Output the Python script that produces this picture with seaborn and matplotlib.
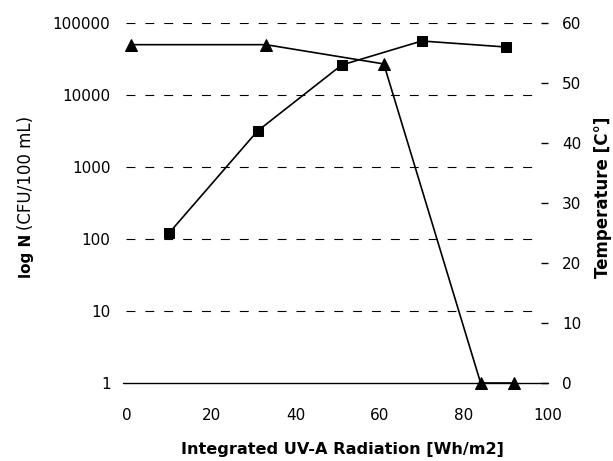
import matplotlib
matplotlib.use("Agg")
import matplotlib.pyplot as plt
import seaborn as sns
import pandas as pd

# Data
uv_bact = [1, 33, 61, 84, 92]
log_n = [50000, 50000, 27000, 1, 1]
uv_temp = [10, 31, 51, 70, 90]
temperature = [25, 42, 53, 57, 56]
left_ticks = [1, 10, 100, 1000, 10000, 100000]
left_labels = ["1", "10", "100", "1000", "10000", "100000"]
right_ticks = [0, 10, 20, 30, 40, 50, 60]
x_ticks = [0, 20, 40, 60, 80, 100]

sns.set_theme(style="white")
plt.rcParams['font.family'] = ['DejaVu Sans']
plt.rcParams['text.color'] = 'black'

W, H = 613, 461
fig = plt.figure(figsize=(6.13, 4.61), dpi=100)
left_px, right_px, top_px, bot_px = 123, 548, 23, 383
ax = fig.add_axes([left_px / W, 1 - bot_px / H, (right_px - left_px) / W,
                   (bot_px - top_px) / H])

df_b = pd.DataFrame({"uv": uv_bact, "n": log_n})
df_t = pd.DataFrame({"uv": uv_temp, "t": temperature})

ax.set_yscale("log")
ax.set_ylim(1, 100000)
grid_end = (540 - left_px) / (right_px - left_px)
for yv in left_ticks[1:]:
    ax.axhline(yv, xmin=0.007, xmax=grid_end, color="black", lw=0.8,
               ls=(0, (8, 9)), zorder=1)
ax.axhline(1, color="black", lw=1.0, zorder=1, clip_on=False)

sns.lineplot(data=df_b, x="uv", y="n", ax=ax, color="black", marker="^",
             markersize=8, markeredgecolor="black", lw=1.2, zorder=3,
             clip_on=False)

ax.set_yticks(left_ticks)
ax.set_yticklabels(left_labels)
ax.minorticks_off()
ax.tick_params(axis="y", length=0, labelsize=11, colors="black", pad=9)
ax.tick_params(axis="x", length=0, labelsize=11, colors="black", pad=18)
ax.set_xlabel("")
ax.set_ylabel("")
for s in ax.spines.values():
    s.set_visible(False)

ax2 = ax.twinx()
sns.lineplot(data=df_t, x="uv", y="t", ax=ax2, color="black", marker="s",
             markersize=7.5, markeredgecolor="black", lw=1.2, zorder=3,
             clip_on=False)
ax2.set_ylim(0, 60)
ax2.set_yticks(right_ticks)
ax2.tick_params(axis="y", length=5, width=1, direction="in", labelsize=11,
                colors="black", pad=10)
ax2.set_ylabel("")
ax2.set_xlabel("")
for s in ax2.spines.values():
    s.set_visible(False)

ax.set_xticks(x_ticks)
ax.set_xlim(-0.95, 100.0)
ax2.set_xlim(-0.95, 100.0)

fig.text(342 / W, 1 - 449 / H, "Integrated UV-A Radiation [Wh/m2]",
         ha="center", va="center", fontsize=11.6, fontweight="bold")
fig.text(26 / W, 1 - 278 / H, "log N", rotation=90, ha="center", va="bottom",
         fontsize=11, fontweight="bold")
fig.text(26 / W, 1 - 230 / H, "(CFU/100 mL)", rotation=90, ha="center",
         va="bottom", fontsize=12)
fig.text(603 / W, 1 - 197 / H, "Temperature [C°]", rotation=90, ha="center",
         va="center", fontsize=12, fontweight="bold")

fig.savefig("out.png", dpi=100)
